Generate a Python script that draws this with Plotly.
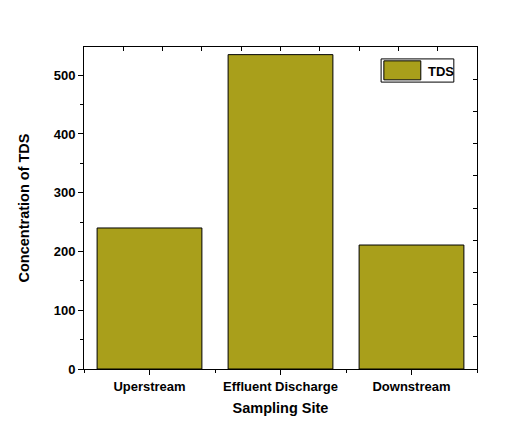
import plotly.graph_objects as go

sites = ["Uperstream", "Effluent Discharge", "Downstream"]
tds = [240, 535, 211]
y_ticks = [0, 100, 200, 300, 400, 500]
series_name = "TDS"

xpos = list(range(len(sites)))
font_family = "Liberation Sans, Arial, sans-serif"
bar_color = "#A99F1B"

fig = go.Figure()
fig.add_trace(go.Bar(
    x=xpos, y=tds, width=0.8, name=series_name,
    marker=dict(color=bar_color, line=dict(color="black", width=1)),
    showlegend=False,
))

fig.update_layout(
    width=515, height=443,
    margin=dict(l=76, r=46, t=39, b=82),
    paper_bgcolor="white", plot_bgcolor="white",
    font=dict(family=font_family, color="black"),
    xaxis=dict(
        range=[-0.5, 2.5], tickmode="array", tickvals=xpos, ticktext=sites,
        ticks="outside", ticklen=5, tickwidth=1, tickcolor="black",
        minor=dict(ticks="outside", ticklen=3, tick0=-0.5, dtick=1, tickcolor="black"),
        showline=True, linecolor="black", linewidth=1, showgrid=False, zeroline=False,
        tickfont=dict(size=13, family=font_family, weight="bold"),
        title=dict(text="<b>Sampling Site</b>", font=dict(size=14.5), standoff=10),
    ),
    yaxis=dict(
        range=[0, 548], tickmode="array", tickvals=y_ticks,
        ticks="outside", ticklen=5, tickwidth=1, tickcolor="black",
        minor=dict(ticks="outside", ticklen=3, tick0=50, dtick=100, tickcolor="black"),
        showline=True, linecolor="black", linewidth=1, showgrid=False, zeroline=False,
        tickfont=dict(size=13, family=font_family, weight="bold"),
        title=dict(text="<b>Concentration of TDS</b>", font=dict(size=14.5), standoff=20),
    ),
    xaxis2=dict(
        overlaying="x", side="top", range=[0, 10], dtick=1, tick0=0,
        ticks="inside", ticklen=4, tickcolor="black", showticklabels=False,
        showline=True, linecolor="black", linewidth=1, showgrid=False, zeroline=False,
    ),
    yaxis2=dict(
        overlaying="y", side="right", range=[0, 10], dtick=1, tick0=0,
        ticks="inside", ticklen=4, tickcolor="black", showticklabels=False,
        showline=True, linecolor="black", linewidth=1, showgrid=False, zeroline=False,
    ),
)

# dummy invisible trace to activate secondary axes
fig.add_trace(go.Scatter(x=[0], y=[0], xaxis="x2", yaxis="y2", mode="markers",
                         marker=dict(opacity=0), showlegend=False, hoverinfo="skip"))

# custom legend (box, swatch, label)
fig.add_shape(type="rect", xref="paper", yref="paper", x0=0.756, x1=0.941, y0=0.891, y1=0.963,
              line=dict(color="black", width=1), fillcolor="white")
fig.add_shape(type="rect", xref="paper", yref="paper", x0=0.763, x1=0.857, y0=0.898, y1=0.957,
              line=dict(color="black", width=1), fillcolor=bar_color)
fig.add_annotation(xref="paper", yref="paper", x=0.870, y=0.925, text="<b>" + series_name + "</b>",
                   showarrow=False, xanchor="left", yanchor="middle",
                   font=dict(size=13, family=font_family, color="black"))

fig.write_html("out.html")
